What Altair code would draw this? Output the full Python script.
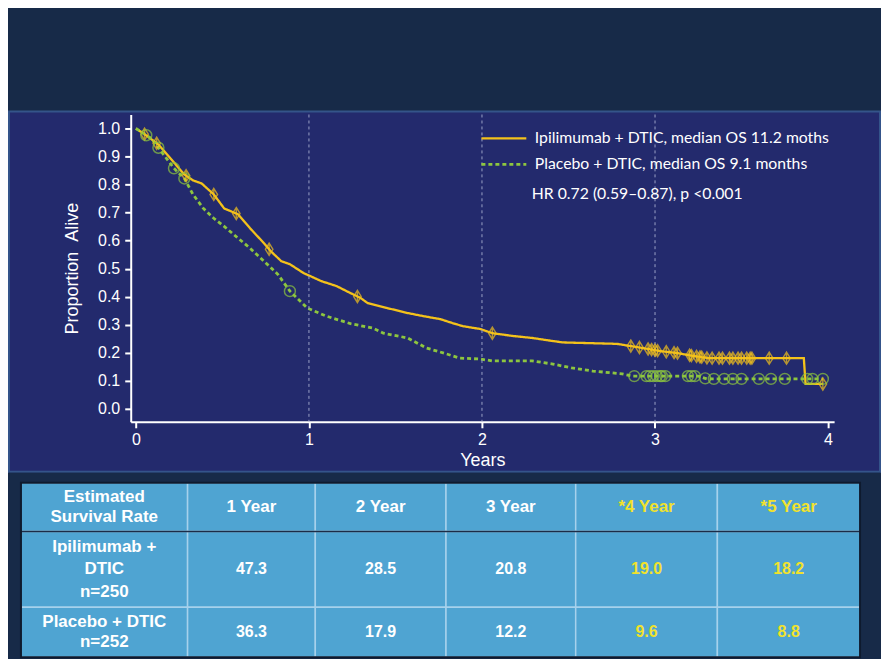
import altair as alt
import pandas as pd
import numpy as np

# ---------------- data ----------------
ipi_label = "Ipilimumab + DTIC, median OS 11.2 moths"
pbo_label = "Placebo + DTIC, median OS 9.1 months"
hr_text = "HR 0.72 (0.59\u20130.87), p <0.001"

ipi_t = [0.0, 0.05, 0.13, 0.20, 0.28, 0.33, 0.38, 0.45, 0.51, 0.59, 0.66, 0.74, 0.78, 0.84, 0.89,
         0.97, 1.01, 1.07, 1.16, 1.24, 1.30, 1.34, 1.45, 1.57, 1.66, 1.76, 1.83, 1.89, 1.99, 2.06,
         2.18, 2.29, 2.41, 2.47, 2.78, 2.86, 2.93, 3.03, 3.12, 3.22, 3.31, 3.86, 3.87, 3.97]
ipi_s = [1.0, 0.98, 0.943, 0.893, 0.836, 0.815, 0.804, 0.765, 0.715, 0.694, 0.644, 0.591, 0.562, 0.527, 0.516,
         0.484, 0.473, 0.456, 0.438, 0.413, 0.395, 0.377, 0.36, 0.342, 0.331, 0.32, 0.306, 0.295, 0.285, 0.27,
         0.26, 0.253, 0.242, 0.237, 0.232, 0.224, 0.217, 0.206, 0.2, 0.189, 0.181, 0.181, 0.089, 0.089]

pbo_t = [0.0, 0.09, 0.16, 0.22, 0.28, 0.33, 0.39, 0.45, 0.51, 0.59, 0.66, 0.74, 0.82, 0.89, 0.95,
         0.99, 1.10, 1.24, 1.37, 1.43, 1.57, 1.68, 1.78, 1.87, 1.99, 2.06, 2.29, 2.41, 2.52, 2.64,
         2.81, 2.87, 3.25, 3.30, 3.97]
pbo_s = [1.0, 0.964, 0.907, 0.858, 0.822, 0.765, 0.715, 0.68, 0.651, 0.609, 0.573, 0.527, 0.48, 0.42, 0.384,
         0.36, 0.331, 0.304, 0.288, 0.27, 0.253, 0.217, 0.199, 0.181, 0.178, 0.171, 0.171, 0.16, 0.146, 0.135,
         0.125, 0.117, 0.117, 0.107, 0.107]

ipi_cens = [0.05, 0.12, 0.29, 0.45, 0.58, 0.77, 1.28, 2.06, 2.86, 2.91, 2.96, 2.98, 3.0, 3.015, 3.065,
            3.11, 3.13, 3.2, 3.21, 3.24, 3.26, 3.27, 3.30, 3.33, 3.37, 3.39, 3.43, 3.45, 3.48, 3.5,
            3.53, 3.55, 3.56, 3.66, 3.76, 3.97]
pbo_cens = [0.06, 0.13, 0.22, 0.28, 0.89, 2.88, 2.95, 2.97, 2.99, 3.01, 3.03, 3.04, 3.06, 3.19, 3.21,
            3.23, 3.29, 3.34, 3.40, 3.45, 3.50, 3.60, 3.67, 3.75, 3.88, 3.91, 3.97]

year_lines = [1, 2, 3]
x_ticks = [0, 1, 2, 3, 4]
y_ticks = [0.0, 0.1, 0.2, 0.3, 0.4, 0.5, 0.6, 0.7, 0.8, 0.9, 1.0]

headers = ["Estimated\nSurvival Rate", "1 Year", "2 Year", "3 Year", "*4 Year", "*5 Year"]
row_labels = ["Ipilimumab +\nDTIC\nn=250", "Placebo + DTIC\nn=252"]
ipi_rates = [47.3, 28.5, 20.8, 19.0, 18.2]
pbo_rates = [36.3, 17.9, 12.2, 9.6, 8.8]

# ---------------- styles ----------------
NAVY = "#172A48"
PANEL = "#232A6D"
YELLOW = "#F4C21B"
GREEN = "#8DC63F"
CELL = "#4FA4D2"
TXT_YEL = "#F1E22C"
AX_FONT = "Liberation Sans"
LEG_FONT = "Lato"
DIAMOND = "M0,-1L0.62,0L0,1L-0.62,0Z M0,-1L0,1"

km_df = pd.concat([
    pd.DataFrame({"t": ipi_t, "s": ipi_s, "arm": ipi_label}),
    pd.DataFrame({"t": pbo_t, "s": pbo_s, "arm": pbo_label}),
], ignore_index=True)
ipi_c = pd.DataFrame({"t": ipi_cens, "s": np.interp(ipi_cens, ipi_t, ipi_s)})
pbo_c = pd.DataFrame({"t": pbo_cens, "s": np.interp(pbo_cens, pbo_t, pbo_s)})
grid_df = pd.DataFrame({"x": year_lines})
one_df = pd.DataFrame({"k": [0]})

xs = alt.Scale(domain=[-0.03, 4.035], range=[122, 827], nice=False, zero=False)
ys = alt.Scale(domain=[-0.046, 1.05], range=[311, 3], nice=False, zero=False)

x_axis = alt.Axis(values=x_ticks, tickCount=5, format="d", offset=-50, grid=False, labelOverlap=False,
                  labelFont=AX_FONT, labelFontSize=16, labelColor="white", labelPadding=4,
                  domainColor="white", domainWidth=2, tickColor="white", tickWidth=2, tickSize=6,
                  title="Years", titleFont=AX_FONT, titleFontSize=18, titleFontWeight="normal",
                  titleColor="white", titlePadding=4)
y_axis = alt.Axis(values=y_ticks, tickCount=11, format=".1f",
                  offset=-122, grid=False, labelOverlap=False,
                  labelFont=AX_FONT, labelFontSize=16, labelColor="white", labelPadding=5,
                  domainColor="white", domainWidth=2, tickColor="white", tickWidth=2, tickSize=6,
                  title="Proportion\u00a0\u00a0Alive", titleFont=AX_FONT, titleFontSize=18,
                  titleFontWeight="normal", titleColor="white", titlePadding=16)

leg = alt.Legend(orient="none", legendX=472, legendY=19, title=None, symbolType="stroke",
                 symbolSize=2025, symbolStrokeWidth=2, labelFont=LEG_FONT, labelFontSize=15.8,
                 labelColor="white", clipHeight=16, rowPadding=10, labelOffset=7,
                 direction="vertical", labelLimit=400)

lines = alt.Chart(km_df).mark_line().encode(
    x=alt.X("t:Q", scale=xs, axis=x_axis),
    y=alt.Y("s:Q", scale=ys, axis=y_axis),
    color=alt.Color("arm:N", scale=alt.Scale(domain=[ipi_label, pbo_label], range=[YELLOW, GREEN]),
                    legend=leg),
    strokeDash=alt.StrokeDash("arm:N", scale=alt.Scale(domain=[ipi_label, pbo_label],
                                                       range=[[1, 0], [4, 3]]), legend=leg),
    strokeWidth=alt.StrokeWidth("arm:N", scale=alt.Scale(domain=[ipi_label, pbo_label],
                                                         range=[2.3, 2.8]), legend=None),
    order="t:Q",
)

grid = alt.Chart(grid_df).mark_rule(color="#9AA1C6", strokeWidth=1, strokeDash=[3, 3]).encode(
    x=alt.X("x:Q", axis=None),
    y=alt.datum(1.05, axis=None),
    y2=alt.datum(-0.044),
)

ipi_pts = alt.Chart(ipi_c).mark_point(shape=DIAMOND, size=150, filled=False, color=YELLOW,
                                      strokeWidth=1.4).encode(
    x=alt.X("t:Q", axis=None), y=alt.Y("s:Q", axis=None))
pbo_pts = alt.Chart(pbo_c).mark_point(shape="circle", size=120, filled=False, color=GREEN,
                                      strokeWidth=1.5).encode(
    x=alt.X("t:Q", axis=None), y=alt.Y("s:Q", axis=None))

hr = alt.Chart(one_df).mark_text(align="left", baseline="middle", font=LEG_FONT, fontSize=15.8,
                                 color="white", text=hr_text).encode(
    x=alt.datum(2.288, axis=None), y=alt.datum(0.765, axis=None))

km = alt.layer(lines, grid, ipi_pts, pbo_pts, hr).resolve_axis(
    x="independent", y="independent"
).properties(
    width=873, height=361,
    view=alt.ViewBackground(fill=PANEL, stroke="#34548A", strokeWidth=2),
)

# ---------------- table ----------------
cells = []
for c, h in enumerate(headers):
    cells.append({"row": 0, "col": c, "label": h})
for r, (lab, vals) in enumerate([(row_labels[0], ipi_rates), (row_labels[1], pbo_rates)], start=1):
    cells.append({"row": r, "col": 0, "label": lab})
    for c, v in enumerate(vals, start=1):
        cells.append({"row": r, "col": c, "label": f"{v:.1f}"})
tab_df = pd.DataFrame(cells)

txs = alt.Scale(domain=[0, 1, 2, 3, 4, 5, 6], range=[12, 179, 307, 438, 568, 710, 853],
                nice=False, zero=False)
tys = alt.Scale(domain=[0, 1, 2, 3], range=[10, 59, 135, 185], nice=False, zero=False)

base = alt.Chart(tab_df).transform_calculate(
    c2="datum.col + 1", r2="datum.row + 1", cm="datum.col + 0.5", rm="datum.row + 0.5",
    nl="split(datum.label, '\\n').length")

cell_rects = base.mark_rect(fill=CELL, stroke="#A6D1EC", strokeWidth=1.5).encode(
    x=alt.X("col:Q", scale=txs, axis=None), x2="c2:Q",
    y=alt.Y("row:Q", scale=tys, axis=None), y2="r2:Q",
)
head_rule = alt.Chart(one_df).mark_rule(color="#1C2B46", strokeWidth=1.5).encode(
    x=alt.datum(0), x2=alt.datum(6), y=alt.datum(1))
border = alt.Chart(one_df).mark_rect(fillOpacity=0, stroke="#0E1A2E", strokeWidth=2).encode(
    x=alt.datum(0), x2=alt.datum(6), y=alt.datum(0), y2=alt.datum(3))

txt_color = alt.condition("datum.col >= 4", alt.value(TXT_YEL), alt.value("white"))


def text_layer(flt, lh, n, size):
    return base.transform_filter(flt).mark_text(
        font=AX_FONT, fontSize=size, fontWeight="bold", lineBreak="\n", lineHeight=lh,
        dy=-(n - 1) * lh / 2, align="center", baseline="middle").encode(
        x=alt.X("cm:Q", scale=txs), y=alt.Y("rm:Q", scale=tys), text="label:N", color=txt_color)


table = alt.layer(
    cell_rects, head_rule, border,
    text_layer("datum.nl == 1 && datum.row == 0", 20, 1, 17),
    text_layer("datum.nl == 1 && datum.row > 0", 20, 1, 16),
    text_layer("datum.nl == 2", 20, 2, 17),
    text_layer("datum.nl == 3", 22.5, 3, 17),
).properties(
    width=873, height=185,
    view=alt.ViewBackground(fill=NAVY, stroke=None),
)

chart = alt.vconcat(km, table, spacing=0).properties(
    padding={"top": 102, "left": 0, "right": 0, "bottom": 0},
).configure(background=NAVY).configure_view(stroke=None)

chart.save("out.html", embed_options={"renderer": "svg", "actions": False})
